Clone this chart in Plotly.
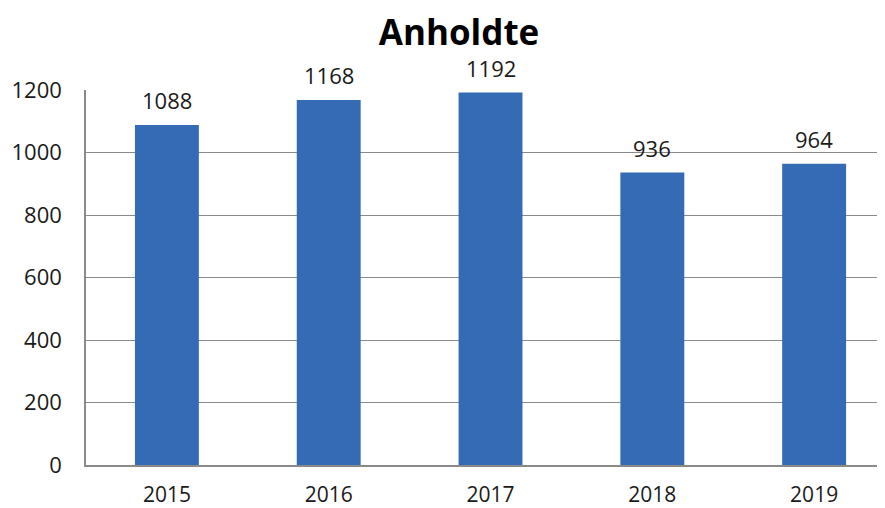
import plotly.graph_objects as go

years = ["2015", "2016", "2017", "2018", "2019"]
values = [1088, 1168, 1192, 936, 964]
y_ticks = [0, 200, 400, 600, 800, 1000, 1200]
title_text = "Anholdte"

fig = go.Figure()
fig.add_trace(go.Bar(
    x=years, y=values,
    width=0.395,
    marker=dict(color="#356BB5", line=dict(width=0)),
))

for i, v in enumerate(values):
    fig.add_annotation(x=i, y=v, xref="x", yref="y", text=str(v), showarrow=False,
                       yanchor="middle", yshift=25,
                       font=dict(family="Open Sans", size=22, color="#1a1a1a"))

# page body has an 8px default margin, so the figure is 8px smaller and offset
fig.update_layout(
    width=877, height=500,
    margin=dict(l=78, r=0, t=82, b=43),
    paper_bgcolor="white", plot_bgcolor="white",
    showlegend=False,
    title=dict(text=f"<b>{title_text}</b>", x=451/877, xanchor="center",
               y=1 - 25/500, yanchor="middle",
               font=dict(family="Open Sans", size=35, color="black")),
    font=dict(family="Open Sans", size=22, color="#1a1a1a"),
)
fig.update_xaxes(
    type="category",
    range=[-0.5, 4.438], showgrid=False, automargin=False,
    showline=True, linecolor="#8a8a8a", linewidth=1.5,
    ticks="", ticklabelstandoff=10,
    tickfont=dict(family="Open Sans", size=21, color="#1a1a1a"),
)
fig.update_yaxes(
    range=[0, 1200], tickvals=y_ticks, automargin=False,
    showgrid=True, gridcolor="#8a8a8a", gridwidth=1.3,
    showline=True, linecolor="#8a8a8a", linewidth=1.5,
    zeroline=False, ticks="", ticklabelstandoff=18,
    tickfont=dict(family="Open Sans", size=22, color="#1a1a1a"),
)

fig.write_html("out.html")
